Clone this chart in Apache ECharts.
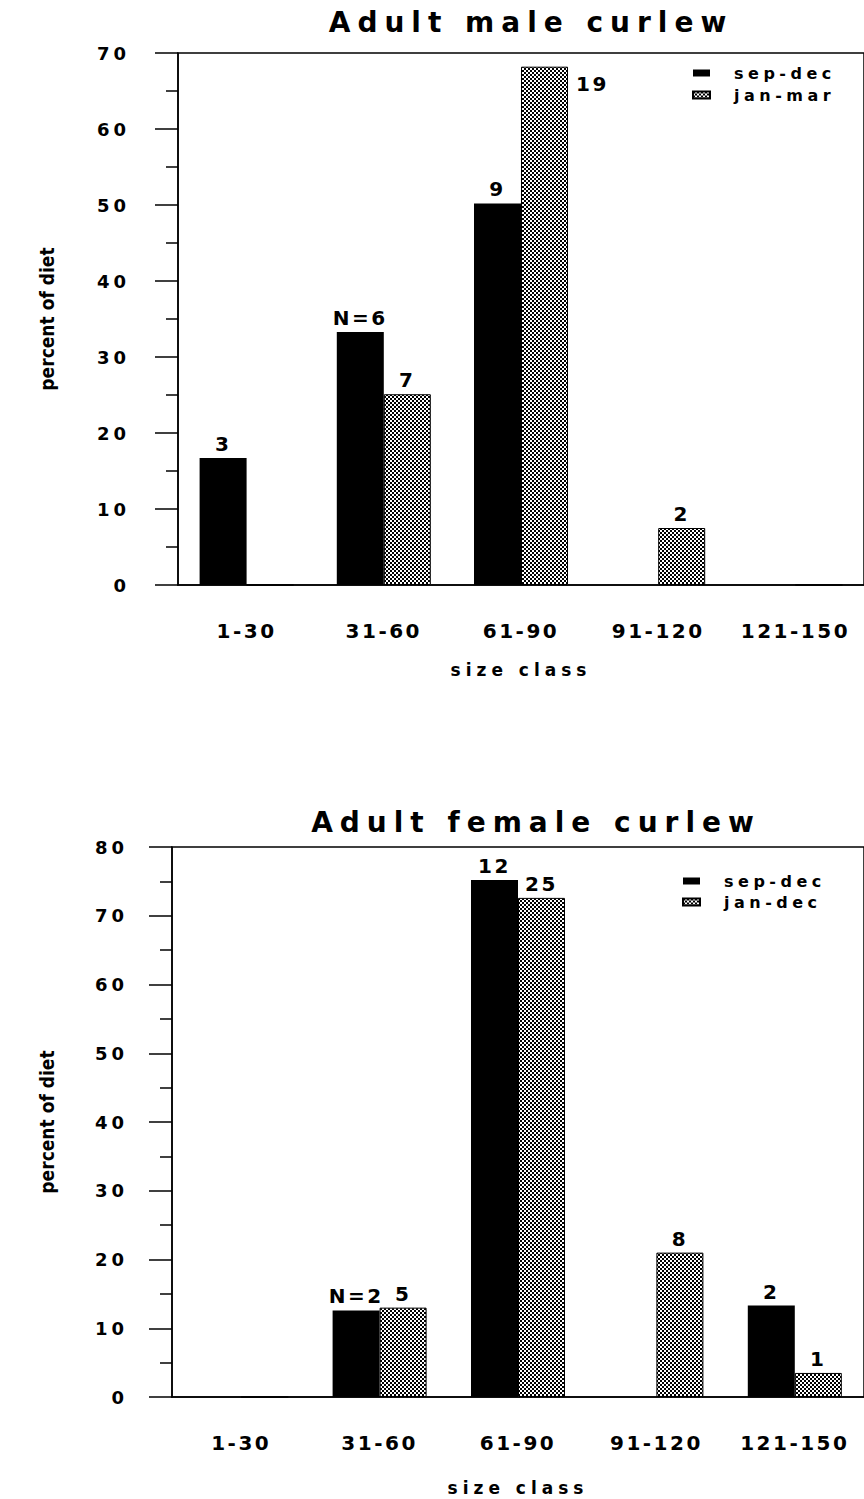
<!DOCTYPE html>
<html><head><meta charset="utf-8">
<script src="https://cdn.jsdelivr.net/npm/echarts@6/dist/echarts.min.js"></script>
<style>html,body{margin:0;padding:0;background:#fff;overflow:hidden}#c{width:864px;height:1499px}</style>
</head><body><div id="c"></div>
<script>
// ---- data ----
const categories = ['1-30', '31-60', '61-90', '91-120', '121-150'];
const maleSepDec = [16.7, 33.3, 50.2, 0, 0];
const maleJanMar = [0, 25.1, 68.2, 7.5, 0];
const maleSepDecN = ['3', 'N=6', '9', '', ''];
const maleJanMarN = ['', '7', '19', '2', ''];
const femaleSepDec = [0, 12.6, 75.2, 0, 13.3];
const femaleJanDec = [0, 13.0, 72.6, 21.0, 3.5];
const femaleSepDecN = ['', 'N=2', '12', '', '2'];
const femaleJanDecN = ['', '5', '25', '8', '1'];
const maleTicks = { min: 0, max: 70, interval: 10 };
const femaleTicks = { min: 0, max: 80, interval: 10 };

const F = "'DejaVu Sans', sans-serif";
const NARROW = "'Liberation Sans Narrow', 'DejaVu Sans Condensed', 'DejaVu Sans', sans-serif";

function makePattern() {
  const c = document.createElement('canvas');
  c.width = 4; c.height = 4;
  const g = c.getContext('2d');
  g.fillStyle = '#fff'; g.fillRect(0, 0, 4, 4);
  g.fillStyle = '#000'; g.fillRect(0, 0, 2, 2); g.fillRect(2, 2, 2, 2);
  return c;
}
const pat = makePattern();

function barSeries(name, values, counts, gi, hatch, rightLabelIdx) {
  return {
    type: 'bar', name: name, xAxisIndex: gi, yAxisIndex: gi,
    barWidth: 47, barGap: '0%',
    itemStyle: hatch ? { color: { image: pat, repeat: 'repeat' }, borderColor: '#000', borderWidth: 1 } : { color: '#000' },
    label: {
      show: true, position: 'top', distance: 4,
      formatter: function (p) { return counts[p.dataIndex]; },
      fontSize: 20, fontWeight: 'bold', color: '#000', fontFamily: F
    },
    data: values.map(function (v, i) {
      if (i === rightLabelIdx) {
        return { value: v, label: { position: [55, 7], align: 'left', verticalAlign: 'top' } };
      }
      return v;
    })
  };
}

function xAxis(gi, gap) {
  return {
    gridIndex: gi, type: 'category', data: categories,
    axisLine: { lineStyle: { color: '#000', width: 1.5 } },
    axisTick: { alignWithLabel: true, length: 18, lineStyle: { color: '#000', width: 1.5 } },
    axisLabel: { margin: 36, fontSize: 20, fontWeight: 'bold', color: '#000', fontFamily: F },
    name: 'size class', nameLocation: 'middle', nameGap: gap,
    nameTextStyle: { fontSize: 17, fontWeight: 'bold', color: '#000', fontFamily: F }
  };
}
function yAxis(gi, t, margin, gap) {
  return {
    gridIndex: gi, type: 'value', min: t.min, max: t.max, interval: t.interval,
    axisLine: { show: true, lineStyle: { color: '#000', width: 1.5 } },
    axisTick: { show: true, length: 23, lineStyle: { color: '#000', width: 1.5 } },
    minorTick: { show: true, splitNumber: 2, length: 12, lineStyle: { color: '#000', width: 1.5 } },
    splitLine: { show: false },
    axisLabel: { margin: margin, fontSize: 18, fontWeight: 'bold', color: '#000', fontFamily: F },
    name: 'percent of diet', nameLocation: 'middle', nameGap: gap,
    nameTextStyle: { fontSize: 19, fontWeight: 'bold', color: '#000', fontFamily: NARROW }
  };
}
function legend(names, left, top, gap) {
  return {
    orient: 'vertical', left: left, top: top, padding: 0,
    itemWidth: 17, itemHeight: 7, itemGap: gap, icon: 'rect', selectedMode: false,
    textStyle: { fontSize: 16, fontWeight: 'bold', color: '#000', fontFamily: F, padding: [0, 0, 0, 19] },
    data: names
  };
}

const chart = echarts.init(document.getElementById('c'), null, { renderer: 'svg' });
chart.setOption({
  animation: false,
  backgroundColor: '#fff',
  title: [
    { text: 'Adult male curlew', left: 531, top: 8, textAlign: 'center', padding: 0,
      textStyle: { fontSize: 28, fontWeight: 'bold', color: '#000', fontFamily: F } },
    { text: 'Adult female curlew', left: 536, top: 808, textAlign: 'center', padding: 0,
      textStyle: { fontSize: 28, fontWeight: 'bold', color: '#000', fontFamily: F } }
  ],
  legend: [
    legend(['sep-dec', 'jan-mar'], 692, 65, 6),
    legend(['sep-dec', 'jan-dec'], 682, 873, 5)
  ],
  grid: [
    { left: 178, top: 53, width: 695, height: 532, show: true, borderColor: '#000', borderWidth: 1.5, backgroundColor: '#fff' },
    { left: 172, top: 847, width: 695, height: 550, show: true, borderColor: '#000', borderWidth: 1.5, backgroundColor: '#fff' }
  ],
  xAxis: [xAxis(0, 76), xAxis(1, 82)],
  yAxis: [yAxis(0, maleTicks, 48, 122), yAxis(1, femaleTicks, 44, 116)],
  series: [
    barSeries('sep-dec', maleSepDec, maleSepDecN, 0, false, -1),
    barSeries('jan-mar', maleJanMar, maleJanMarN, 0, true, 2),
    barSeries('sep-dec', femaleSepDec, femaleSepDecN, 1, false, -1),
    barSeries('jan-dec', femaleJanDec, femaleJanDecN, 1, true, -1)
  ]
});

// widen the lettering like the original typeset figure
const SPACING = { 28: 7, 20: 2.5, 18: 4, 17: 5, 16: 4.5 };
function applySpacing() {
  document.querySelectorAll('#c svg text').forEach(function (t) {
    const fs = Math.round(parseFloat(getComputedStyle(t).fontSize));
    if (SPACING[fs] != null) t.style.letterSpacing = SPACING[fs] + 'px';
  });
}
chart.on('finished', applySpacing);
setTimeout(applySpacing, 50);
setTimeout(applySpacing, 400);
</script>
</body></html>
